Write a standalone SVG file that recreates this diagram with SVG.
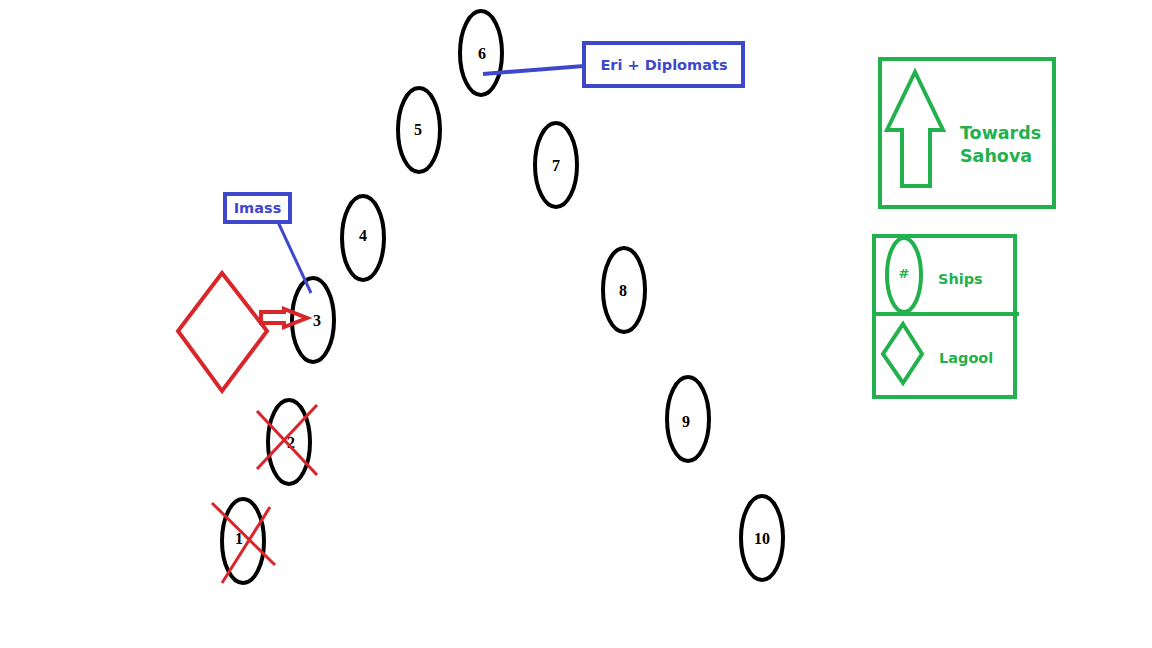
<svg xmlns="http://www.w3.org/2000/svg" width="1152" height="648" viewBox="0 0 1152 648">
<style>
.ship ellipse{fill:none;stroke:#000;stroke-width:4}
.num{font-family:"Liberation Serif",serif;font-weight:bold;font-size:16px;fill:#000;text-anchor:middle;dominant-baseline:central}
.blue{fill:none;stroke:#3f48cc;stroke-width:4}
.btxt{font-family:"DejaVu Sans",Verdana,sans-serif;font-weight:bold;font-size:14.5px;fill:#3f48cc}
.green{fill:none;stroke:#22b14c;stroke-width:4}
.gtxt{font-family:"DejaVu Sans",Verdana,sans-serif;font-weight:bold;fill:#22b14c}
.red{fill:none;stroke:#d9262b;stroke-width:4}
.cross{stroke:#d9262b;stroke-width:3;fill:none}
</style>
<rect width="1152" height="648" fill="#fff"/>
<g id="ship1" class="ship"><ellipse cx="243" cy="541" rx="21" ry="42"/><text class="num" x="239" y="538">1</text></g>
<g id="ship2" class="ship"><ellipse cx="289" cy="442" rx="21" ry="42"/><text class="num" x="291" y="442">2</text></g>
<g id="ship3" class="ship"><ellipse cx="313" cy="320" rx="21" ry="42"/><text class="num" x="317" y="320">3</text></g>
<g id="ship4" class="ship"><ellipse cx="363" cy="238" rx="21" ry="42"/><text class="num" x="363" y="235">4</text></g>
<g id="ship5" class="ship"><ellipse cx="419" cy="130" rx="21" ry="42"/><text class="num" x="418" y="129">5</text></g>
<g id="ship6" class="ship"><ellipse cx="481" cy="53" rx="21" ry="42"/><text class="num" x="482" y="53">6</text></g>
<g id="ship7" class="ship"><ellipse cx="556" cy="165" rx="21" ry="42"/><text class="num" x="556" y="165">7</text></g>
<g id="ship8" class="ship"><ellipse cx="624" cy="290" rx="21" ry="42"/><text class="num" x="623" y="290">8</text></g>
<g id="ship9" class="ship"><ellipse cx="688" cy="419" rx="21" ry="42"/><text class="num" x="686" y="421">9</text></g>
<g id="ship10" class="ship"><ellipse cx="762" cy="538" rx="21" ry="42"/><text class="num" x="762" y="538">10</text></g>
<g id="crosses">
<line class="cross" x1="257" y1="411" x2="317" y2="475"/>
<line class="cross" x1="317" y1="405" x2="257" y2="469"/>
<line class="cross" x1="212" y1="503" x2="275" y2="565"/>
<line class="cross" x1="270" y1="507" x2="222" y2="583"/>
</g>
<g id="lagool"><polygon class="red" points="222,273 267,331 222,391 178,331"/></g>
<g id="imass"><rect class="blue" x="225" y="194" width="65" height="28" stroke-width="3.5"/><text class="btxt" x="257.5" y="213" text-anchor="middle" font-size="14">Imass</text></g>
<g id="eri"><rect class="blue" x="584" y="43" width="159" height="43"/><text class="btxt" x="664" y="70" text-anchor="middle">Eri + Diplomats</text></g>
<g id="connectors">
<line x1="278" y1="222" x2="311" y2="293" stroke="#3f48cc" stroke-width="3"/>
<line x1="483" y1="74" x2="584" y2="66" stroke="#3f48cc" stroke-width="4"/>
<polygon class="red" stroke-width="3.5" points="261,312 284,312 284,309 307,318 284,327 284,323 261,323"/>
</g>
<g id="legend-direction">
<rect class="green" x="880" y="59" width="174" height="148"/>
<polygon class="green" stroke-width="3.5" points="915,72 943,130 930,130 930,186 902,186 902,130 887,130"/>
<text class="gtxt" x="960" y="139" font-size="17.5">Towards</text>
<text class="gtxt" x="960" y="162" font-size="17.5">Sahova</text>
</g>
<g id="legend-key">
<rect class="green" x="874" y="236" width="141" height="161"/>
<line class="green" x1="872" y1="314" x2="1019" y2="314"/>
<ellipse class="green" cx="904" cy="275" rx="17" ry="37"/>
<text class="gtxt" x="904" y="278" font-size="13" text-anchor="middle">#</text>
<text class="gtxt" x="938" y="284" font-size="14.5">Ships</text>
<polygon class="green" points="903,324 922,354 903,383 883,354"/>
<text class="gtxt" x="939" y="363" font-size="14.5">Lagool</text>
</g>
</svg>
